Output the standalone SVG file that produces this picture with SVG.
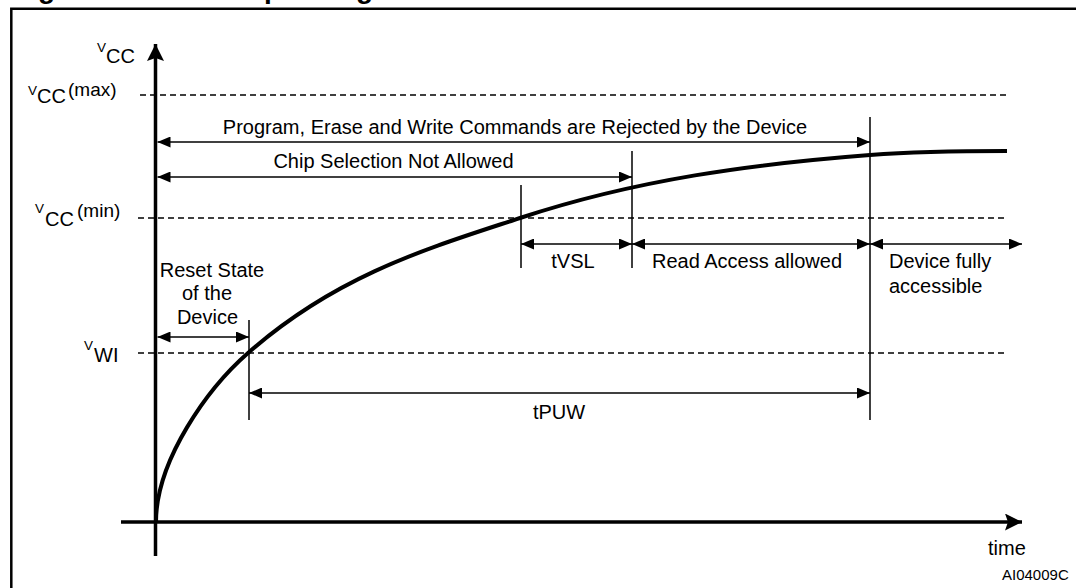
<svg xmlns="http://www.w3.org/2000/svg" width="1076" height="588" viewBox="0 0 1076 588">
<style>
text{font-family:"Liberation Sans",Arial,sans-serif;fill:#000}
.lbl{font-size:20px}
.sm{font-size:13.5px}
.mid{font-size:19px}
.thin{stroke:#000;stroke-width:1.5;fill:none}
.dash{stroke:#000;stroke-width:1.3;stroke-dasharray:6 4;fill:none}
.arr{stroke:#000;stroke-width:1.5;fill:none;marker-start:url(#ah);marker-end:url(#ah)}
</style>
<defs>
<marker id="ah" markerUnits="userSpaceOnUse" markerWidth="13" markerHeight="11" refX="13" refY="5.5" orient="auto-start-reverse">
<path d="M0,0 L13,5.5 L0,11 z" fill="#000"/>
</marker>
<marker id="big" markerUnits="userSpaceOnUse" markerWidth="17" markerHeight="17" refX="17" refY="8.5" orient="auto">
<path d="M0,0 L17,8.5 L0,17 L3,8.5 z" fill="#000"/>
</marker>
</defs>
<rect width="1076" height="588" fill="#fff"/>
<text x="13" y="-2" font-size="28" font-weight="bold" textLength="360">Figure 19. Power-up timing</text>
<path d="M11.3,588 V8.7 H1076" stroke="#000" stroke-width="2.5" fill="none"/>

<g id="axes">
<line x1="155.5" y1="556" x2="155.5" y2="44" stroke="#000" stroke-width="3.5" marker-end="url(#big)"/>
<line x1="121" y1="522" x2="1022" y2="522" stroke="#000" stroke-width="3.5" marker-end="url(#big)"/>
</g>

<g id="levels">
<line class="dash" x1="140" y1="95" x2="1007" y2="95"/>
<line class="dash" x1="138" y1="218" x2="1007" y2="218"/>
<line class="dash" x1="138" y1="353" x2="1007" y2="353"/>
</g>

<g id="axis-labels">
<text class="sm" x="97" y="52">V</text><text class="lbl" x="106" y="63">CC</text>
<text class="sm" x="28" y="95">V</text><text class="lbl" x="37" y="103">CC</text><text class="mid" x="68" y="96">(max)</text>
<text class="sm" x="35" y="213">V</text><text class="lbl" x="45" y="226">CC</text><text class="mid" x="77" y="217">(min)</text>
<text class="sm" x="84" y="350">V</text><text class="lbl" x="94" y="362">WI</text>
<text class="lbl" x="988" y="555">time</text>
<text x="1002" y="580" font-size="15">AI04009C</text>
</g>

<g id="curve">
<path d="M156,522 C156,460 208,388 248,353 C338,274 430,247.7 520,218 C637,179.4 753,164 870,155 C916,151.5 960,151 1007,151" stroke="#000" stroke-width="4" fill="none"/>
</g>

<g id="connectors">
<line class="thin" x1="249" y1="320" x2="249" y2="420"/>
<line class="thin" x1="521" y1="185" x2="521" y2="268"/>
<line class="thin" x1="632" y1="151" x2="632" y2="268"/>
<line class="thin" x1="870" y1="117" x2="870" y2="420"/>
<line class="arr" x1="157.5" y1="142" x2="870" y2="142"/>
<line class="arr" x1="157.5" y1="177" x2="632" y2="177"/>
<line class="arr" x1="157.5" y1="337" x2="249" y2="337"/>
<line class="arr" x1="521" y1="244" x2="632" y2="244"/>
<line class="arr" x1="632" y1="244" x2="870" y2="244"/>
<line class="arr" x1="870" y1="244" x2="1022" y2="244"/>
<line class="arr" x1="249" y1="393" x2="870" y2="393"/>
</g>

<g id="label-program"><text class="lbl" x="515" y="134" text-anchor="middle">Program, Erase and Write Commands are Rejected by the Device</text></g>
<g id="label-chip"><text class="lbl" x="393.5" y="168" text-anchor="middle">Chip Selection Not Allowed</text></g>
<g id="label-reset">
<text class="lbl" x="212" y="277" text-anchor="middle">Reset State</text>
<text class="lbl" x="207" y="300" text-anchor="middle">of the</text>
<text class="lbl" x="207.5" y="324" text-anchor="middle">Device</text>
</g>
<g id="label-tvsl"><text class="lbl" x="573" y="268" text-anchor="middle">tVSL</text></g>
<g id="label-read"><text class="lbl" x="747" y="268" text-anchor="middle">Read Access allowed</text></g>
<g id="label-full">
<text class="lbl" x="889" y="268">Device fully</text>
<text class="lbl" x="889" y="293">accessible</text>
</g>
<g id="label-tpuw"><text class="lbl" x="559" y="419" text-anchor="middle">tPUW</text></g>
</svg>
